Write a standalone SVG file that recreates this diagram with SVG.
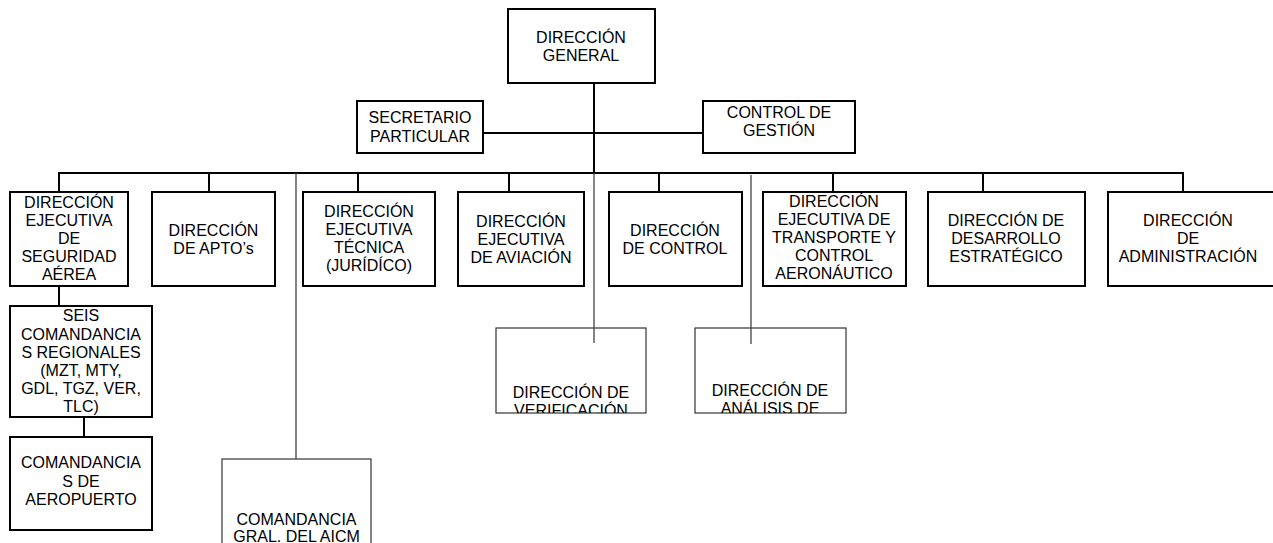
<svg xmlns="http://www.w3.org/2000/svg" width="1273" height="543" viewBox="0 0 1273 543">
<style>
.b{fill:#fff;stroke:#000;stroke-width:2}
.t{fill:none;stroke:#333;stroke-width:1.2}
.c{fill:none;stroke:#000;stroke-width:2}
.g{fill:none;stroke:#444;stroke-width:1.3}
text{font-family:"Liberation Sans",Arial,sans-serif;font-size:16px;fill:#000;text-anchor:middle}
</style>
<defs>
<clipPath id="cv"><rect x="496" y="328" width="150" height="85"/></clipPath>
<clipPath id="ca"><rect x="695" y="328" width="151" height="85"/></clipPath>
</defs>
<rect width="1273" height="543" fill="#fff"/>
<g id="n-dg"><rect class="b" x="508" y="9" width="147" height="74"/><text x="581" y="43">DIRECCIÓN</text><text x="581" y="61">GENERAL</text></g>
<g id="n-sec"><rect class="b" x="357" y="101" width="126" height="52"/><text x="420" y="123">SECRETARIO</text><text x="420" y="142">PARTICULAR</text></g>
<g id="n-ctrl"><rect class="b" x="703" y="101" width="152" height="52"/><text x="779" y="118">CONTROL DE</text><text x="779" y="136">GESTIÓN</text></g>
<g id="n-seg"><rect class="b" x="10" y="192" width="118" height="94"/><text x="69" y="208">DIRECCIÓN</text><text x="69" y="226">EJECUTIVA</text><text x="69" y="244">DE</text><text x="69" y="262">SEGURIDAD</text><text x="69" y="280">AÉREA</text></g>
<g id="n-apto"><rect class="b" x="152" y="192" width="123" height="94"/><text x="213.5" y="236">DIRECCIÓN</text><text x="213.5" y="254">DE APTO’s</text></g>
<g id="n-tec"><rect class="b" x="303" y="192" width="132" height="94"/><text x="369" y="217">DIRECCIÓN</text><text x="369" y="235">EJECUTIVA</text><text x="369" y="253">TÉCNICA</text><text x="369" y="271">(JURÍDÍCO)</text></g>
<g id="n-av"><rect class="b" x="458" y="192" width="126" height="94"/><text x="521" y="227">DIRECCIÓN</text><text x="521" y="245">EJECUTIVA</text><text x="521" y="263">DE AVIACIÓN</text></g>
<g id="n-con"><rect class="b" x="609" y="192" width="133" height="94"/><text x="675" y="236">DIRECCIÓN</text><text x="675" y="254">DE CONTROL</text></g>
<g id="n-tra"><rect class="b" x="763" y="192" width="143" height="94"/><text x="834" y="207">DIRECCIÓN</text><text x="834" y="225">EJECUTIVA DE</text><text x="834" y="243">TRANSPORTE Y</text><text x="834" y="261">CONTROL</text><text x="834" y="279">AERONÁUTICO</text></g>
<g id="n-des"><rect class="b" x="928" y="192" width="157" height="94"/><text x="1006" y="226">DIRECCIÓN DE</text><text x="1006" y="244">DESARROLLO</text><text x="1006" y="262">ESTRATÉGICO</text></g>
<g id="n-adm"><rect class="b" x="1108" y="192" width="170" height="94"/><text x="1188" y="226">DIRECCIÓN</text><text x="1188" y="244">DE</text><text x="1188" y="262">ADMINISTRACIÓN</text></g>
<g id="n-seis"><rect class="b" x="10" y="306" width="142" height="111"/><text x="81" y="321">SEIS</text><text x="81" y="339.5">COMANDANCIA</text><text x="81" y="357.5">S REGIONALES</text><text x="81" y="376">(MZT, MTY,</text><text x="81" y="394">GDL, TGZ, VER,</text><text x="81" y="412">TLC)</text></g>
<g id="n-cda"><rect class="b" x="10" y="437" width="142" height="93"/><text x="81" y="468">COMANDANCIA</text><text x="81" y="486.5">S DE</text><text x="81" y="505">AEROPUERTO</text></g>
<g id="n-aicm"><rect class="t" x="222" y="459" width="149" height="100"/><text x="296.5" y="525">COMANDANCIA</text><text x="296.5" y="542">GRAL. DEL AICM</text></g>
<g id="n-ver"><rect class="t" x="496" y="328" width="150" height="85"/><g clip-path="url(#cv)"><text x="571" y="398">DIRECCIÓN DE</text><text x="571" y="416">VERIFICACIÓN</text></g></g>
<g id="n-ana"><rect class="t" x="695" y="328" width="151" height="85"/><g clip-path="url(#ca)"><text x="770" y="396">DIRECCIÓN DE</text><text x="770" y="414">ANÁLISIS DE</text></g></g>
<g id="connectors">
<path class="c" d="M594 83V173M483 133H703M59 192V173H1183V192M209 173V192M358 173V192M509 173V192M659 173V192M833 173V192M983 173V192M59 286V306M84 417V437"/>
<path class="g" d="M296 173V459M594 173V343M751 175V344"/>
</g>
</svg>
